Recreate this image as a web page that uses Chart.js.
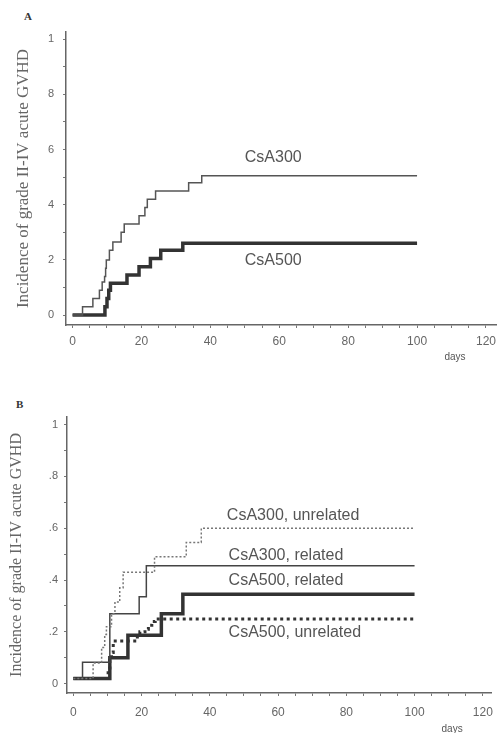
<!DOCTYPE html>
<html>
<head>
<meta charset="utf-8">
<script src="https://cdn.jsdelivr.net/npm/chart.js@4.4.1/dist/chart.umd.min.js"></script>
<style>
  html, body { margin: 0; padding: 0; background: #fff; }
  body { width: 502px; height: 733px; position: relative; overflow: hidden; }
  .panel { position: absolute; left: 0; width: 502px; }
  #panelA { top: 0; height: 370px; }
  #panelB { top: 370px; height: 363px; }
  .tag { position: absolute; font-family: "Liberation Serif", serif; font-weight: bold; font-size: 11px; color: #333; }
</style>
</head>
<body>
<div class="tag" style="left:24px;top:10px">A</div>
<div class="tag" style="left:16px;top:398px">B</div>
<div class="panel" id="panelA"><canvas id="chartA"></canvas></div>
<div class="panel" id="panelB"><canvas id="chartB"></canvas></div>
<script>
// ---- data (days, cumulative incidence) ----
// panel A
const daysA300 = [0, 2.9, 5.9, 7.8, 8.6, 9.3, 9.6, 9.8, 10.7, 11.7, 14.1, 15, 19.3, 21, 21.7, 24.1, 33.7, 37.5, 100];
const incA300  = [0, .03, .06, .09, .12, .14, .17, .20, .235, .265, .30, .33, .36, .39, .42, .45, .48, .505, .505];
const daysA500 = [0, 9.4, 10, 10.5, 11, 15.8, 19.3, 22.6, 25.6, 32, 100];
const incA500  = [0, .03, .06, .09, .115, .145, .175, .205, .235, .26, .26];

// panel B
const daysB300u = [0, 5.8, 8.3, 9.2, 9.7, 11.2, 12.2, 13.6, 14.6, 23.8, 33.1, 37.5, 100];
const incB300u  = [.02, .08, .14, .19, .22, .27, .315, .37, .43, .49, .545, .60, .60];
const daysB300r = [0, 2.7, 10.7, 19.3, 21.4, 100];
const incB300r  = [.02, .083, .27, .335, .455, .455];
const daysB500r = [0, 10.7, 16, 25.8, 32.1, 100];
const incB500r  = [.02, .10, .187, .27, .345, .345];
const daysB500u = [0, 10.2, 10.7, 11.2, 11.7, 18, 19.5, 21, 22, 23, 24, 100];
const incB500u  = [.02, .06, .09, .12, .165, .18, .20, .21, .225, .24, .25, .25];

// ticks
const xTickValues = [0, 5, 10, 15, 20, 25, 30, 35, 40, 45, 50, 55, 60, 65, 70, 75, 80, 85, 90, 95, 100, 105, 110, 115, 120];
const xTickLabels = ['0', '20', '40', '60', '80', '100', '120'];
const yTickValues = [0, .1, .2, .3, .4, .5, .6, .7, .8, .9, 1];
const yTickLabelsA = ['0', '2', '4', '6', '8', '1'];
const yTickLabelsB = ['0', '.2', '.4', '.6', '.8', '1'];

const yTitle = 'Incidence of grade II-IV acute GVHD';

function pts(days, inc) {
  return days.map((d, i) => ({ x: d, y: inc[i] }));
}

const curveLabels = {
  id: 'curveLabels',
  afterDatasetsDraw(chart, args, opts) {
    const { ctx, scales: { x, y }, chartArea } = chart;
    ctx.save();
    ctx.fillStyle = '#555';
    ctx.textBaseline = 'middle';
    ctx.font = '16px "Liberation Sans", Arial, sans-serif';
    opts.items.forEach(it => {
      ctx.fillText(it.text, x.getPixelForValue(it.day), y.getPixelForValue(it.value));
    });
    ctx.font = '10px "Liberation Sans", Arial, sans-serif';
    ctx.textAlign = 'center';
    ctx.fillText('days', x.getPixelForValue(opts.unitDay), chartArea.bottom + opts.unitDrop);
    ctx.restore();
  }
};

function makeChart(id, datasets, cfg) {
  return new Chart(document.getElementById(id), {
    type: 'line',
    data: { datasets: datasets },
    plugins: [curveLabels],
    options: {
      responsive: true,
      maintainAspectRatio: false,
      animation: false,
      events: [],
      layout: { padding: { top: cfg.top, right: cfg.right, left: 0, bottom: 0 } },
      elements: { point: { radius: 0 } },
      plugins: {
        legend: { display: false },
        tooltip: { enabled: false },
        curveLabels: { items: cfg.labels, unitDay: 111, unitDrop: cfg.unitDrop }
      },
      scales: {
        x: {
          type: 'linear',
          min: cfg.xMin,
          max: cfg.xMax,
          afterBuildTicks: s => { s.ticks = xTickValues.map(v => ({ value: v })); },
          afterFit: s => { s.height = cfg.xAxisH; },
          ticks: {
            autoSkip: false,
            maxRotation: 0,
            padding: cfg.xPad,
            color: '#666',
            font: { family: '"Liberation Sans", Arial, sans-serif', size: 12 },
            callback: v => (v % 20 === 0 ? xTickLabels[v / 20] : '')
          },
          grid: { drawOnChartArea: false, drawTicks: true, tickLength: 3, color: '#777', lineWidth: 1 },
          border: { display: true, color: '#666', width: 1.5 }
        },
        y: {
          type: 'linear',
          min: cfg.yMin,
          max: cfg.yMax,
          afterBuildTicks: s => { s.ticks = yTickValues.map(v => ({ value: v })); },
          afterFit: s => { s.width = cfg.yAxisW; },
          ticks: {
            autoSkip: false,
            padding: cfg.yPad,
            color: '#666',
            font: { family: '"Liberation Sans", Arial, sans-serif', size: 11 },
            callback: v => {
              const k = Math.round(v * 10);
              return k % 2 === 0 ? cfg.yLabels[k / 2] : '';
            }
          },
          grid: { drawOnChartArea: false, drawTicks: true, tickLength: 3, color: '#777', lineWidth: 1 },
          border: { display: true, color: '#666', width: 1.5 },
          title: {
            display: true,
            text: yTitle,
            color: '#666',
            padding: { top: cfg.titlePad, bottom: 0 },
            font: { family: '"Liberation Serif", "Times New Roman", serif', size: cfg.titleSize }
          }
        }
      }
    }
  });
}

const thin = { borderColor: '#555', borderWidth: 1.5, stepped: true, fill: false };
const thick = { borderColor: '#333', borderWidth: 3.5, stepped: true, fill: false };

makeChart('chartA', [
  Object.assign({ label: 'CsA300', data: pts(daysA300, incA300) }, thin),
  Object.assign({ label: 'CsA500', data: pts(daysA500, incA500) }, thick)
], {
  top: 32, right: 1, xMin: -1.9, xMax: 123, yMin: -0.036, yMax: 1.026,
  xAxisH: 45, yAxisW: 66, xPad: 6, yPad: 9, titlePad: 13, titleSize: 17, unitDrop: 32,
  yLabels: yTickLabelsA,
  labels: [
    { text: 'CsA300', day: 50, value: 0.57 },
    { text: 'CsA500', day: 50, value: 0.196 }
  ]
});

makeChart('chartB', [
  Object.assign({ label: 'CsA300, unrelated', data: pts(daysB300u, incB300u) }, thin, { borderColor: '#777', borderDash: [2, 2] }),
  Object.assign({ label: 'CsA300, related', data: pts(daysB300r, incB300r) }, thin, { borderColor: '#444' }),
  Object.assign({ label: 'CsA500, related', data: pts(daysB500r, incB500r) }, thick),
  Object.assign({ label: 'CsA500, unrelated', data: pts(daysB500u, incB500u) }, thick, { borderWidth: 3, borderDash: [3, 3.5] })
], {
  top: 47, right: 9, xMin: -1.85, xMax: 122.5, yMin: -0.036, yMax: 1.029,
  xAxisH: 40, yAxisW: 67, xPad: 9, yPad: 6, titlePad: 7, titleSize: 16, unitDrop: 36,
  yLabels: yTickLabelsB,
  labels: [
    { text: 'CsA300, unrelated', day: 45, value: 0.647 },
    { text: 'CsA300, related', day: 45.5, value: 0.495 },
    { text: 'CsA500, related', day: 45.5, value: 0.399 },
    { text: 'CsA500, unrelated', day: 45.5, value: 0.199 }
  ]
});
</script>
</body>
</html>
